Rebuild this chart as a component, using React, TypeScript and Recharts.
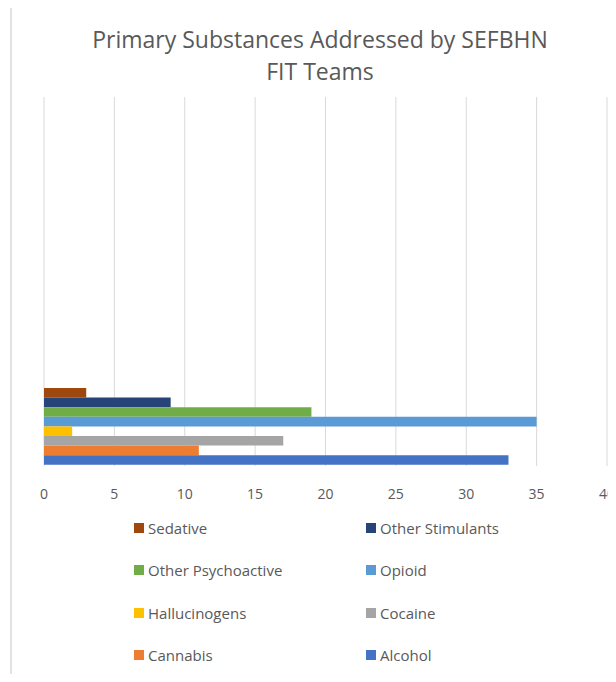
import { BarChart, Bar, XAxis, YAxis, CartesianGrid } from 'recharts';

const category = 'FIT Teams';
const seriesNames = [
  'Sedative',
  'Other Stimulants',
  'Other Psychoactive',
  'Opioid',
  'Hallucinogens',
  'Cocaine',
  'Cannabis',
  'Alcohol',
];
const seriesValues = [3, 9, 19, 35, 2, 17, 11, 33];
const seriesColors = ['#9E480E', '#264478', '#70AD47', '#5B9BD5', '#FFC000', '#A5A5A5', '#ED7D31', '#4472C4'];
const xTicks = [0, 5, 10, 15, 20, 25, 30, 35, 40];

const row: Record<string, string | number> = { name: category };
seriesNames.forEach((s, i) => {
  row[s] = seriesValues[i];
});
const data = [row];

const textColor = '#595959';
const font = '"Open Sans", "Noto Sans", sans-serif';

export default function App() {
  return (
    <div style={{ position: 'relative', width: 616, height: 682, overflow: 'hidden', background: '#fff', margin: -8 }}>
      <div
        style={{
          position: 'absolute',
          left: 10,
          top: 6,
          width: 640,
          height: 700,
          border: '2px solid #e2e2e2',
        }}
      />
      <div
        style={{
          position: 'absolute',
          left: 10,
          top: 23,
          width: 620,
          textAlign: 'center',
          fontFamily: font,
          fontSize: 23,
          lineHeight: '32px',
          color: textColor,
        }}
      >
        Primary Substances Addressed by SEFBHN
        <br />
        FIT Teams
      </div>
      <div style={{ position: 'absolute', left: 0, top: 0 }}>
        <BarChart
          width={616}
          height={682}
          data={data}
          layout="vertical"
          margin={{ top: 97, right: 9, left: 44, bottom: 186 }}
          barGap={0}
          barSize={9.6}
        >
          <CartesianGrid horizontal={false} stroke="#d9d9d9" strokeWidth={1} />
          <XAxis
            type="number"
            domain={[0, 40]}
            ticks={xTicks}
            axisLine={false}
            tickLine={false}
            tickSize={6}
            tickMargin={17}
            height={30}
            interval={0}
            tick={{ fill: textColor, fontSize: 14, fontFamily: font }}
          />
          <YAxis type="category" dataKey="name" hide width={0} padding={{ top: 290, bottom: 0 }} />
          {seriesNames.map((s, i) => (
            <Bar key={s} dataKey={s} fill={seriesColors[i]} isAnimationActive={false} />
          ))}
        </BarChart>
      </div>
      {seriesNames.map((s, i) => {
        const col = i % 2;
        const r = Math.floor(i / 2);
        return (
          <div
            key={s}
            style={{
              position: 'absolute',
              left: col === 0 ? 134 : 366,
              top: 528 + r * 42.3 - 10,
              height: 20,
              display: 'flex',
              alignItems: 'center',
              fontFamily: font,
              fontSize: 15,
              color: textColor,
            }}
          >
            <span style={{ width: 10, height: 10, background: seriesColors[i], marginRight: 4, display: 'inline-block' }} />
            {s}
          </div>
        );
      })}
    </div>
  );
}
